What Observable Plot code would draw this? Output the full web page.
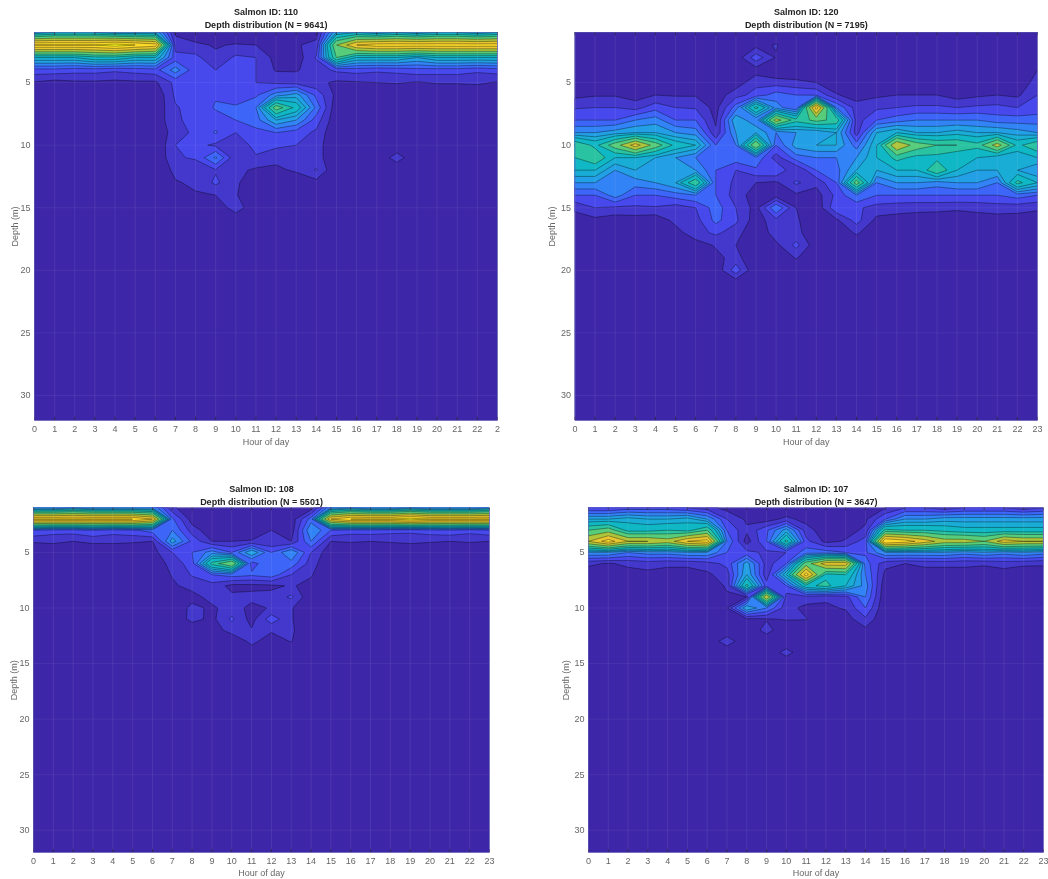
<!DOCTYPE html>
<html>
<head>
<meta charset="utf-8">
<script src="https://cdn.jsdelivr.net/npm/d3@7"></script>
<script src="https://cdn.jsdelivr.net/npm/@observablehq/plot@0.6"></script>
<style>
html,body{margin:0;padding:0;background:#fff;width:1048px;height:879px;overflow:hidden;position:relative}
.panel{position:absolute;filter:blur(0.35px)}
svg{display:block;overflow:visible}
</style>
</head>
<body>
<script>
const hours = d3.range(0, 24);
const depths = d3.range(1, 33);
const depthTicks = [5, 10, 15, 20, 25, 30];
const levels = [0, 1, 2, 3, 4, 5, 6, 7, 8.5, 10, 12, 14, 16, 18];
const parulaStops = [0, 2, 3.5, 5, 7.5, 10, 12.5, 15, 18];
const parulaColors = ["#3e26a8", "#4749ed", "#3875fe", "#23a0e5", "#0bbdbc", "#57cc7a", "#c5c22a", "#fec933", "#f9fb15"];

// Contour level read at each hour (columns 0–23) for depths 1 m, 2 m, ...; deeper rows read as empty
const grid110 = [
[6,7,7,7,6,6,6,.8,.3,0,0,0,0,0,.6,6,7,6,7,6,7,7,6,7],
[18,18,18,18,19,18,17,1.5,1.2,.9,1.1,1,.8,.9,1.3,12,16,17,17,17,17,17,17,17],
[7,7,7,8,8,7,7,2.4,2.3,1.2,2.2,2,.6,.4,2.1,10,7,7,7,6,7,7,7,7],
[2.6,2.6,2.4,2.4,2.2,2.4,2.6,4.5,2.3,2,2.5,2,.9,.9,1.5,2.2,2.4,2.2,2.3,2.6,2.5,2.5,2.2,2.5],
[.9,.6,.8,.8,.7,.8,.8,2.3,2,2,2,2,1.8,1.6,1.3,.8,.9,1,1.1,.9,1.1,1.1,1.2,.9],
[0,0,0,0,0,0,.1,2.2,2.7,2.9,2.6,2.8,4.5,5.5,2.7,.7,0,0,0,0,0,0,0,0],
[0,0,0,0,0,0,.2,1.9,2.4,3.1,3.1,4,11,8,3.7,.2,0,0,0,0,0,0,0,0],
[0,0,0,0,0,0,.2,1.9,2.2,2.6,3,3.5,6,5,2.5,.2,0,0,0,0,0,0,0,0],
[0,0,0,0,0,0,0,1.6,2.2,3.1,2,2.7,3,2.5,1.8,0,0,0,0,0,0,0,0,0],
[0,0,0,0,0,0,0,2,2.3,1.8,1.4,2.3,2.2,2,1.5,0,0,0,0,0,0,0,0,0],
[0,0,0,0,0,0,0,1.9,2.1,4.2,1.2,1.9,1.4,1.3,1.5,0,0,0,1.6,0,0,0,0,0],
[0,0,0,0,0,0,0,1.3,1.5,1.9,1.3,.8,.7,1.2,2.1,0,0,0,0,0,0,0,0,0],
[0,0,0,0,0,0,0,.9,1.2,2.2,1.2,.2,0,0,.6,0,0,0,0,0,0,0,0,0],
[0,0,0,0,0,0,0,.1,.9,1,1.1,0,0,0,0,0,0,0,0,0,0,0,0,0],
[0,0,0,0,0,0,0,0,0,0,1.7,0,0,0,0,0,0,0,0,0,0,0,0,0]
];
const grid120 = [
[0,0,0,0,0,0,0,0,0,0,0,0,0,0,0,0,0,0,0,0,0,0,0,0],
[0,0,0,0,0,0,0,0,0,.6,1.1,0,0,0,0,0,0,0,0,0,0,0,0,0],
[0,0,0,0,0,0,0,0,.3,2.6,.9,0,0,0,0,0,0,0,0,0,0,0,0,0],
[0,0,0,0,0,0,0,0,0,.5,0,0,0,0,0,0,0,0,0,0,0,0,0,1],
[0,0,0,0,0,0,0,0,.4,1.7,1.5,1.3,1,.3,0,0,0,0,0,0,0,0,0,1.6],
[.7,.9,.9,.5,1,.9,.9,.4,1.6,2.4,3.5,3,2.9,1.1,.5,.8,1,1,1,.5,.8,1,.8,2],
[1.9,2,2,1.6,2.6,2,1.9,.6,3.5,9,4.5,3,17,4,1.5,1.8,2,2.2,2.2,2,2.2,2.3,2,2.4],
[3,3,3,4,4.5,3,3,.8,6,4,13,9,10.5,9.5,1.5,3,3.5,4,4,4,4,3.5,3.5,3.5],
[5,5,5.5,6,6,5,4.5,1.2,5,6,4,5,5,6,1.5,6,7,6,6,6.5,6,6,5.5,5],
[10,8,11,15,11,8,7,3,4,12,3,5.5,6,6,3.5,7,14,11,10,10,9,13,8,10],
[8.5,10,7,7,6,5,4,3.8,3.6,3.8,1.5,3.5,4,4,5,7,9,8,8,7,7,6,6,7],
[7,7,5,6,5,5,5,3,2,2.8,3,1,3,3.6,6,6,7,7,10,7,6,6,6,5],
[5,5,4,4.5,5,6,10,3,1.7,1,.8,2.2,1.3,3,11,4,5,5,4.5,5,5,4,9,7],
[3,3,4.5,3,3,3.5,4,3,1.5,.5,.5,.8,.5,2.3,4,3,3,3,3,3,3,3,3.5,3],
[1.2,2,1.8,1.8,1.9,1.5,2,3.5,2,.6,4,1,.2,2.8,2.2,1.6,1.4,1.3,1.3,1.2,1.3,1.5,1.4,1.2],
[.6,.7,.4,.5,.3,1.3,1.6,3.3,2.2,.4,1.7,1.2,0,.8,2.4,.7,.6,.5,.4,.3,.5,.5,.5,.4],
[0,0,0,0,0,.6,1.6,2.2,1.5,0,1.6,1.4,0,0,1.2,0,0,0,0,0,0,0,0,0],
[0,0,0,0,0,0,.5,1.1,1,0,.7,2.3,.3,0,0,0,0,0,0,0,0,0,0,0],
[0,0,0,0,0,0,0,.7,1.4,0,0,1.1,0,0,0,0,0,0,0,0,0,0,0,0],
[0,0,0,0,0,0,0,.2,2.6,0,0,0,0,0,0,0,0,0,0,0,0,0,0,0],
[0,0,0,0,0,0,0,0,.3,0,0,0,0,0,0,0,0,0,0,0,0,0,0,0]
];
const grid108 = [
[5,5,6,5,5,5,5,1.3,0,0,0,0,0,0,.5,5,6,5,5,6,5,5,5,6],
[18,18,18,18,18,18,16,3.2,.5,0,0,0,0,.3,3.5,16,18,18,18,19,18,18,18,18],
[3,2.5,2.5,3,2.5,2.8,3.5,4,1.5,.3,.2,.2,1,.4,5,3,2.5,2.6,2.4,2.3,2.6,2.8,2.4,2.8],
[1.1,1.2,1,1.2,1.2,1.1,1,5.5,2.7,1,1,1.1,1.1,1,4,1,1.1,1,1.1,1.2,1.1,1,1.1,1],
[.2,.2,.2,.2,.2,.3,.6,2,3,4.5,3,6,3,5,2,.2,.1,.1,.1,.2,.1,.1,.1,.1],
[0,0,0,0,0,0,.2,1.4,2.5,9,12,2.5,4,3.6,1.5,0,0,0,0,0,0,0,0,0],
[0,0,0,0,0,0,0,1.1,2.1,3,3.5,3.2,3.6,2,1.1,0,0,0,0,0,0,0,0,0],
[0,0,0,0,0,0,0,.8,1.4,1.6,.7,.7,.8,1.1,.7,0,0,0,0,0,0,0,0,0],
[0,0,0,0,0,0,0,0,.6,1.4,1.2,1.3,1.3,2.2,.1,0,0,0,0,0,0,0,0,0],
[0,0,0,0,0,0,0,.1,1.3,.8,1.5,.7,1.1,1.1,0,0,0,0,0,0,0,0,0,0],
[0,0,0,0,0,0,0,0,1.4,.7,2.2,.6,2.6,1.1,0,0,0,0,0,0,0,0,0,0],
[0,0,0,0,0,0,0,0,0,.6,1.3,1.1,1.1,1.2,0,0,0,0,0,0,0,0,0,0],
[0,0,0,0,0,0,0,0,0,0,.4,1.2,.6,1.05,0,0,0,0,0,0,0,0,0,0],
[0,0,0,0,0,0,0,0,0,0,0,.6,0,0,0,0,0,0,0,0,0,0,0,0]
];
const grid107 = [
[2,2,2.5,2.5,2.5,2,1.5,.6,0,0,0,0,0,0,.5,1,2,2,1.5,2,2,2,1.5,2],
[6,6,6.5,6,6,6.5,5,2,.8,.5,1.3,.6,.3,.3,.8,3,5,5,5.5,5.5,5.5,5.5,5.5,5.5],
[10,11,8,8,8.5,8,10,3,1.2,2.8,5.5,1.5,.3,.6,1.2,9,8.5,8.5,8,7.5,7.5,7.5,7.5,7.5],
[14,17,14,14,13,16,17,4,.5,3,9,2.3,.7,1.1,2.5,18,17,15,13,13,12,15,14,14],
[5,5,4,4.5,4.5,5,5,3,2.3,1.8,2,3.5,3.5,3,2.8,5,5,5,5,4.5,5,4.5,5,4.5],
[1.2,.9,1.2,1.4,1.2,1.2,1.5,2.3,5.5,1.5,3,11,15,15,3.5,1.3,1,1.2,1.3,1.2,1.1,1.4,1.2,1.1],
[.4,.5,.6,.7,.6,.6,.8,1.5,6,1.3,7,17,8,8.5,4,.7,.5,.6,.4,.6,.6,.5,.3,.6],
[0,0,0,0,0,0,0,1.2,9,2.5,3,8,9,7,4.5,.2,0,0,0,0,0,0,0,0],
[0,0,0,0,0,0,0,.8,1,14,1.5,1.6,1.2,1.6,4,.1,0,0,0,0,0,0,0,0],
[0,0,0,0,0,0,0,.9,6,4,1.4,.7,.8,1.1,3,0,0,0,0,0,0,0,0,0],
[0,0,0,0,0,0,0,0,.8,.9,1.1,1.05,0,.5,1.8,0,0,0,0,0,0,0,0,0],
[0,0,0,0,0,0,0,0,0,1.5,0,0,0,.2,.7,0,0,0,0,0,0,0,0,0],
[0,0,0,0,0,0,0,1.7,0,0,0,0,0,0,0,0,0,0,0,0,0,0,0,0],
[0,0,0,0,0,0,0,0,0,0,1.5,0,0,0,0,0,0,0,0,0,0,0,0,0]
];

const titles = {
  a: "Salmon ID: 110\nDepth distribution (N = 9641)",
  b: "Salmon ID: 120\nDepth distribution (N = 7195)",
  c: "Salmon ID: 108\nDepth distribution (N = 5501)",
  d: "Salmon ID: 107\nDepth distribution (N = 3647)"
};

const font = "'Liberation Sans', Arial, sans-serif";

function panel({grid, title, left, top, width, height, ml, mr, mt, mb, lastLabel, xLabelOffset, yLabelOffset, titleDy}) {
  const flat = [];
  for (let r = 0; r < depths.length + 2; r++) {
    const row = grid[r] || [];
    for (let h = 0; h < hours.length; h++) flat.push(row[h] || 0);
  }
  const chart = Plot.plot({
    width, height,
    marginLeft: ml, marginRight: mr, marginTop: mt, marginBottom: mb,
    style: {background: "transparent", fontFamily: font, fontSize: "9px", color: "#666"},
    x: {domain: [0, 23], ticks: hours, axis: null},
    y: {domain: [1, 32], reverse: true, axis: null},
    color: {type: "linear", domain: parulaStops, range: parulaColors, interpolate: "rgb", clamp: true, legend: false},
    marks: [
      Plot.frame({fill: parulaColors[0], stroke: null}),
      Plot.contour(flat, {
        x1: -0.5, x2: 23.5, y1: 0.5, y2: 34.5,
        width: hours.length, height: depths.length + 2,
        thresholds: levels, smooth: true,
        fill: Plot.identity, stroke: "#000", strokeWidth: 0.5, strokeOpacity: 0.7,
        clip: true
      }),
      Plot.ruleX(hours, {x: d => d, stroke: "#fff", strokeOpacity: 0.08, strokeWidth: 1}),
      Plot.ruleY(depthTicks, {y: d => d, stroke: "#fff", strokeOpacity: 0.06, strokeWidth: 1}),
      Plot.ruleX(hours, {x: d => d, y1: 32, y2: 31.75, stroke: "#222", strokeWidth: 0.7}),
      Plot.ruleX(hours, {x: d => d, y1: 1, y2: 1.25, stroke: "#222", strokeWidth: 0.7}),
      Plot.frame({stroke: "#5a5ab0", strokeWidth: 0.6}),
      Plot.axisX({
        ticks: hours, tickSize: 0, tickPadding: 5, anchor: "bottom",
        tickFormat: d => (d === 23 && lastLabel ? lastLabel : String(d)),
        label: "Hour of day", labelAnchor: "center", labelArrow: "none", labelOffset: xLabelOffset,
        fill: "#666"
      }),
      Plot.axisY({
        ticks: depthTicks, tickSize: 0, tickPadding: 4, anchor: "left",
        label: "Depth (m)", labelAnchor: "center", labelArrow: "none", labelOffset: yLabelOffset,
        fill: "#666"
      }),
      Plot.text([title], {
        text: d => d, frameAnchor: "top", lineAnchor: "bottom", dy: titleDy,
        lineHeight: 1.4, fontWeight: "bold", fontSize: 9, fill: "#222"
      })
    ]
  });
  const wrap = document.createElement("div");
  wrap.className = "panel";
  wrap.style.left = left + "px";
  wrap.style.top = top + "px";
  wrap.appendChild(chart);
  document.body.appendChild(wrap);
}

panel({grid: grid110, title: titles.a, left: 0, top: 0, width: 520, height: 460, ml: 34, mr: 23, mt: 32, mb: 40, lastLabel: "2", xLabelOffset: 24, yLabelOffset: 23, titleDy: -5});
panel({grid: grid120, title: titles.b, left: 530, top: 0, width: 518, height: 460, ml: 44.5, mr: 11, mt: 32, mb: 40, xLabelOffset: 24, yLabelOffset: 26, titleDy: -5});
panel({grid: grid108, title: titles.c, left: 0, top: 475, width: 520, height: 404, ml: 33, mr: 31, mt: 32.5, mb: 27, xLabelOffset: 23, yLabelOffset: 23, titleDy: -3});
panel({grid: grid107, title: titles.d, left: 550, top: 475, width: 498, height: 404, ml: 38, mr: 5, mt: 32.5, mb: 27, xLabelOffset: 23, yLabelOffset: 26, titleDy: -3});
</script>
</body>
</html>
